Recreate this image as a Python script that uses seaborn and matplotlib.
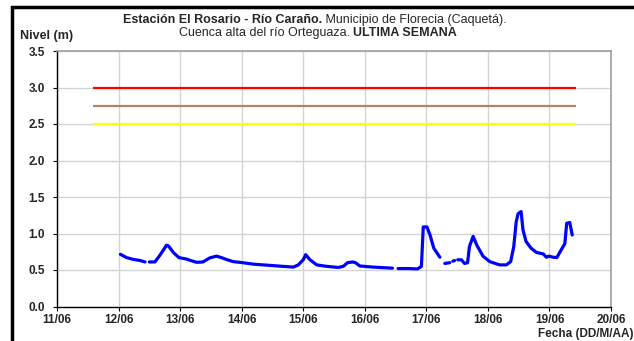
import numpy as np
import pandas as pd
import seaborn as sns
import matplotlib.pyplot as plt
import matplotlib.dates as mdates
from matplotlib.patches import Rectangle

nan = np.nan

# dia del mes de junio (fraccion de dia) y nivel (m); nan = dato faltante
dia = [12.03, 12.13, 12.24, 12.35, 12.43, nan, 12.50, 12.59, 12.67, 12.78, 12.81,
       12.89, 12.98, 13.10, 13.19, 13.27, 13.37, 13.48, 13.59, 13.67, 13.75, 13.86,
       14.02, 14.19, 14.35, 14.51, 14.67, 14.84, 14.92, 15.00, 15.04, 15.11, 15.22,
       15.38, 15.57, 15.65, 15.72, 15.80, 15.85, 15.92, 16.13, 16.35, 16.45, nan,
       16.54, 16.70, 16.86, 16.92, 16.95, 17.01, 17.06, 17.12, 17.22, nan, 17.30,
       17.38, nan, 17.43, 17.46, nan, 17.51, 17.57, 17.62, 17.67, 17.70, 17.76,
       17.82, 17.92, 18.03, 18.19, 18.30, 18.37, 18.42, 18.46, 18.49, 18.54, 18.57,
       18.62, 18.70, 18.79, 18.90, 18.95, 18.99, 19.06, 19.12, 19.19, 19.25, 19.28,
       19.33, 19.37]
nivel = [0.715, 0.67, 0.645, 0.63, 0.61, nan, 0.61, 0.61, 0.70, 0.84, 0.83,
         0.74, 0.67, 0.65, 0.625, 0.605, 0.61, 0.665, 0.69, 0.67, 0.645, 0.615,
         0.60, 0.58, 0.57, 0.56, 0.55, 0.54, 0.57, 0.64, 0.71, 0.64, 0.57,
         0.55, 0.535, 0.55, 0.60, 0.61, 0.60, 0.555, 0.54, 0.53, 0.525, nan,
         0.52, 0.52, 0.515, 0.55, 1.09, 1.09, 0.98, 0.80, 0.675, nan, 0.59,
         0.60, nan, 0.62, 0.63, nan, 0.64, 0.64, 0.59, 0.60, 0.82, 0.96,
         0.84, 0.69, 0.615, 0.57, 0.57, 0.615, 0.82, 1.16, 1.27, 1.30, 1.05,
         0.89, 0.80, 0.74, 0.72, 0.675, 0.69, 0.675, 0.67, 0.775, 0.86, 1.14,
         1.15, 0.98]

# umbrales de alerta
umbrales = [3.0, 2.75, 2.5]
colores_umbral = ['#FF0000', '#B08562', '#FFFF00']
umbral_ini, umbral_fin = 11.58, 19.43

def a_fecha(d):
    return pd.Timestamp('2024-06-01') + pd.to_timedelta(d - 1, unit='D')

df = pd.DataFrame({'dia': dia, 'nivel': nivel})
df['tramo'] = df['nivel'].isna().cumsum()
df = df.dropna()
df['fecha'] = a_fecha(df['dia'])

sns.set_style('white')
plt.rcParams['font.family'] = ['Liberation Sans', 'DejaVu Sans']

fig = plt.figure(figsize=(6.34, 3.41), dpi=100)
ax = fig.add_axes([57 / 634, 1 - 306.5 / 341, 554 / 634, 255.5 / 341])

for u, c in zip(umbrales, colores_umbral):
    ax.hlines(u, a_fecha(umbral_ini), a_fecha(umbral_fin), color=c, lw=1.6, zorder=3)

sns.lineplot(data=df, x='fecha', y='nivel', units='tramo', estimator=None,
             color='#0000FF', lw=2.3, ax=ax, zorder=4)

ax.set_xlim(a_fecha(11), a_fecha(20))
ax.set_ylim(0, 3.5)
ax.set_yticks(np.arange(0, 3.51, 0.5))
ax.yaxis.set_major_formatter(plt.FormatStrFormatter('%.1f'))
ax.xaxis.set_major_locator(mdates.DayLocator())
ax.xaxis.set_major_formatter(mdates.DateFormatter('%d/%m'))
ax.grid(True, color='#D4D4D4', lw=1)
ax.set_xlabel('')
ax.set_ylabel('')
ax.tick_params(axis='both', labelsize=8.5, length=3, width=0.8, color='black',
               direction='out', bottom=True, left=True)
ax.tick_params(axis='y', pad=5.5)
ax.tick_params(axis='x', pad=2.5)
for lab in ax.get_xticklabels() + ax.get_yticklabels():
    lab.set_fontweight('bold')
for s in ['left', 'bottom']:
    ax.spines[s].set_color('black')
    ax.spines[s].set_linewidth(1)
for s in ['top', 'right']:
    ax.spines[s].set_color('#A0A0A0')
    ax.spines[s].set_linewidth(1.2)

# marco exterior
fig.patches.append(Rectangle((12 / 634, -0.1), 1.2, (1 - 7 / 341) + 0.1,
                             transform=fig.transFigure, fill=False,
                             ec='black', lw=2.5))


def linea_mixta(partes, xc, y):
    fig.canvas.draw()
    r = fig.canvas.get_renderer()
    textos = [fig.text(0, y, t, fontsize=9, fontweight=w, va='center')
              for t, w in partes]
    anchos = [t.get_window_extent(r).width / fig.bbox.width for t in textos]
    x = xc - sum(anchos) / 2
    for t, a in zip(textos, anchos):
        t.set_x(x)
        x += a


linea_mixta([('Estación El Rosario - Río Caraño.', 'bold'),
             (' Municipio de Florecia (Caquetá).', 'normal')],
            315 / 634, 1 - 20 / 341)
linea_mixta([('Cuenca alta del río Orteguaza. ', 'normal'),
             ('ULTIMA SEMANA', 'bold')],
            318 / 634, 1 - 33 / 341)

fig.text(20 / 634, 1 - 36 / 341, 'Nivel (m)', fontsize=9, fontweight='bold',
         va='center', ha='left')
fig.text(633 / 634, 1 - 333.5 / 341, 'Fecha (DD/M/AA)', fontsize=8.5,
         fontweight='bold', va='center', ha='right')

fig.savefig('out.png', dpi=100)
